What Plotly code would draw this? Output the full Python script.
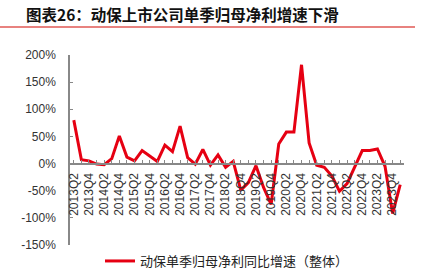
import plotly.graph_objects as go

quarters = [f"{y}Q{q}" for y in range(2013, 2025) for q in range(1, 5)]
categories = quarters[1:45]  # 2013Q2 .. 2024Q1
growth = [80, 7, 5, -1, -2, 9, 51, 12, 5, 24, 14, 4, 34, 22, 69, 11, -1, 26, -3, 16,
          -7, 4, -49, -35, -4, -44, -75, 36, 58, 58, 182, 38, -3, -7, -23, -51, -37, -8,
          24, 24, 27, -5, -92, -39]
series_name = "动保单季归母净利同比增速（整体）"
title_text = "图表26：动保上市公司单季归母净利增速下滑"
y_ticks = [-150, -100, -50, 0, 50, 100, 150, 200]

L, R, T, B = 70, 25, 55, 30
W, H = 429, 275
pw, ph = W - L - R, H - T - B

def px_x(x):
    return (x - L) / pw

def px_y(y):
    return 1 - (y - T) / ph

fig = go.Figure()
fig.add_trace(go.Scatter(x=categories, y=growth, mode="lines", name=series_name,
                         line=dict(color="#E60012", width=3)))

ticktext = [c if i % 2 == 0 else "" for i, c in enumerate(categories)]

fig.update_layout(
    width=W, height=H, margin=dict(l=L, r=R, t=T, b=B, autoexpand=False),
    paper_bgcolor="white", plot_bgcolor="white",
    font=dict(family="Liberation Sans, Arial", color="#333333", size=12),
    showlegend=True,
    legend=dict(orientation="h", x=px_x(100), xanchor="left", y=px_y(276), yanchor="bottom",
                font=dict(family="Noto Sans CJK SC", size=13, color="#222222"),
                bgcolor="rgba(0,0,0,0)"),
    xaxis=dict(type="category", range=[-0.5, len(categories) - 0.5],
               tickmode="array", tickvals=categories, ticktext=ticktext,
               tickangle=-90, ticks="inside", ticklen=3, tickcolor="#888888",
               showline=True, linecolor="#888888", linewidth=1.5,
               showgrid=False, zeroline=False, anchor="free", ticklabelstandoff=4,
               position=150 / 350, tickfont=dict(size=12, color="#333333")),
    yaxis=dict(range=[-150, 200], tickvals=y_ticks,
               ticktext=[f"{v}%" for v in y_ticks],
               ticks="inside", ticklen=3, tickcolor="#888888",
               showline=True, linecolor="#888888", linewidth=1.5,
               showgrid=False, zeroline=False, ticklabelstandoff=10,
               tickfont=dict(size=12, color="#333333")),
)

fig.add_annotation(text=title_text, xref="paper", yref="paper",
                   x=px_x(24), y=px_y(14), xanchor="left", yanchor="middle",
                   showarrow=False,
                   font=dict(family="Noto Sans CJK SC", size=15.5, color="#111111",
                             weight="bold"))
fig.add_shape(type="line", xref="paper", yref="paper",
              x0=px_x(0), x1=px_x(415), y0=px_y(27), y1=px_y(27),
              line=dict(color="#E8827F", width=2))

fig.write_html("out.html")
